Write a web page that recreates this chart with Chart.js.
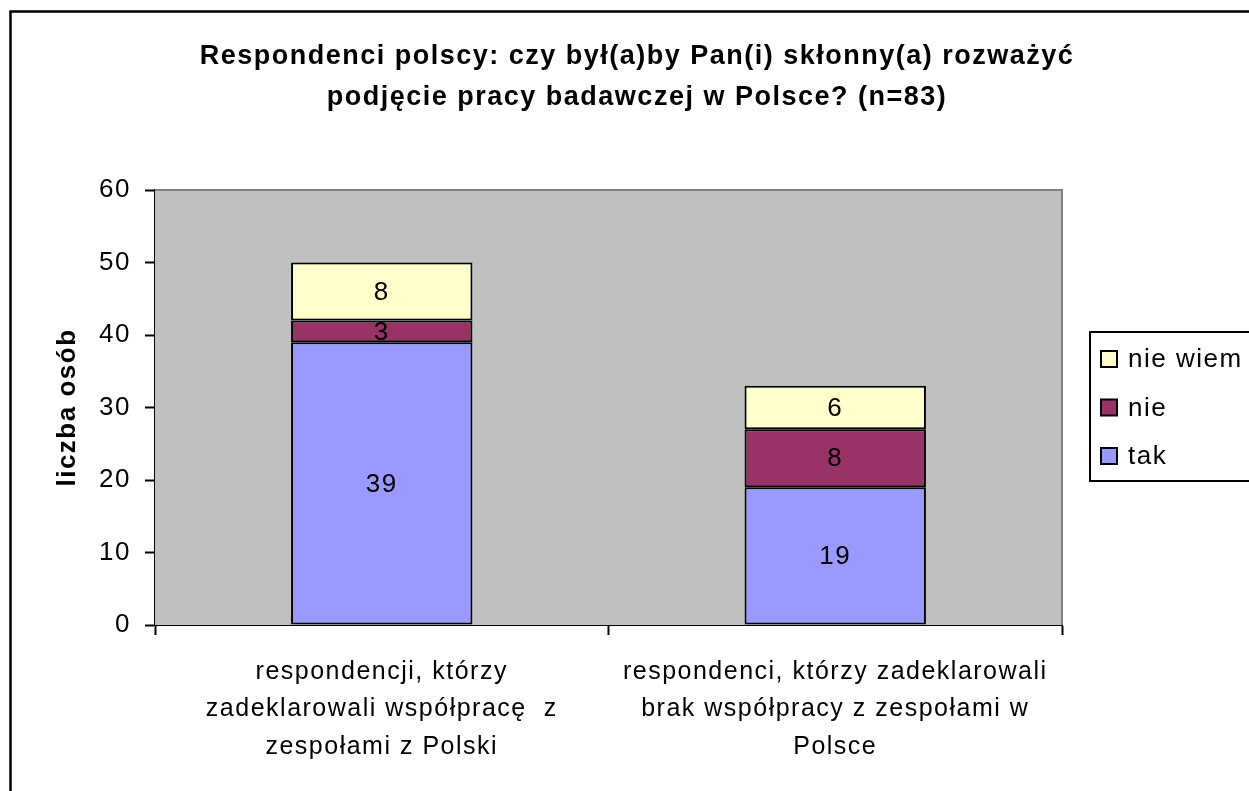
<!DOCTYPE html>
<html>
<head>
<meta charset="utf-8">
<script src="https://cdn.jsdelivr.net/npm/chart.js@4"></script>
<style>
  html, body { margin: 0; padding: 0; background: #fff; }
  #wrap { width: 1249px; height: 791px; }
</style>
</head>
<body>
<div id="wrap"><canvas id="chart" width="1249" height="791"></canvas></div>
<script>
// Chart data
const categories = [
  ["respondencji, którzy", "zadeklarowali współpracę  z", "zespołami z Polski"],
  ["respondenci, którzy zadeklarowali", "brak współpracy z zespołami w", "Polsce"]
];
const takValues = [39, 19];
const nieValues = [3, 8];
const nieWiemValues = [8, 6];
const titleLines = [
  "Respondenci polscy: czy był(a)by Pan(i) skłonny(a) rozważyć",
  "podjęcie pracy badawczej w Polsce? (n=83)"
];
const yTitle = "liczba osób";

const FONT = "'Liberation Sans', Arial, sans-serif";
const SPACING = "1.5px";

// Letter spacing like the old office renderer
const spacingPlugin = {
  id: "spacing",
  beforeLayout(chart) { chart.ctx.letterSpacing = SPACING; },
  beforeDraw(chart) { chart.ctx.letterSpacing = SPACING; }
};

// Grey plot area, its border and the outer frame
const plotAreaPlugin = {
  id: "plotArea",
  beforeDatasetsDraw(chart) {
    const { ctx, chartArea: a } = chart;
    ctx.save();
    ctx.fillStyle = "#C0C0C0";
    ctx.fillRect(a.left, a.top, a.right - a.left, a.bottom - a.top);
    ctx.strokeStyle = "#808080";
    ctx.lineWidth = 2;
    ctx.beginPath();
    ctx.moveTo(a.left, a.top);
    ctx.lineTo(a.right, a.top);
    ctx.lineTo(a.right, a.bottom);
    ctx.stroke();
    ctx.restore();
  },
  afterDraw(chart) {
    const ctx = chart.ctx;
    ctx.save();
    ctx.strokeStyle = "#000";
    ctx.lineWidth = 2.5;
    ctx.strokeRect(10.5, 11.5, 1260, 800);
    ctx.restore();
  }
};

// Value labels in the middle of each segment
const labelPlugin = {
  id: "segLabels",
  afterDatasetsDraw(chart) {
    const ctx = chart.ctx;
    ctx.save();
    ctx.letterSpacing = SPACING;
    ctx.font = "26px " + FONT;
    ctx.fillStyle = "#000";
    ctx.textAlign = "center";
    ctx.textBaseline = "middle";
    chart.data.datasets.forEach((ds, i) => {
      chart.getDatasetMeta(i).data.forEach((bar, j) => {
        const p = bar.getProps(["x", "y", "base"], true);
        ctx.fillText(String(ds.data[j]), p.x, (p.y + p.base) / 2 + 1);
      });
    });
    ctx.restore();
  }
};

// Legend box on the right, drawn from the datasets
const legendPlugin = {
  id: "boxLegend",
  afterDraw(chart) {
    const ctx = chart.ctx;
    const x0 = 1090, y0 = 332, h = 149;
    ctx.save();
    ctx.letterSpacing = SPACING;
    ctx.fillStyle = "#fff";
    ctx.fillRect(x0, y0, 200, h);
    ctx.strokeStyle = "#000";
    ctx.lineWidth = 2;
    ctx.strokeRect(x0, y0, 200, h);
    ctx.font = "26px " + FONT;
    ctx.textBaseline = "middle";
    const items = chart.data.datasets.slice().reverse();
    items.forEach((ds, k) => {
      const cy = 359 + k * 48.5;
      ctx.fillStyle = ds.backgroundColor;
      ctx.fillRect(1101, cy - 8, 16, 16);
      ctx.strokeRect(1101, cy - 8, 16, 16);
      ctx.fillStyle = "#000";
      ctx.fillText(ds.label, 1128, cy + 1);
    });
    ctx.restore();
  }
};

const dsCommon = {
  borderColor: "#000",
  borderWidth: 2,
  borderSkipped: false,
  barPercentage: 0.4,
  categoryPercentage: 1.0
};

new Chart(document.getElementById("chart"), {
  type: "bar",
  data: {
    labels: categories,
    datasets: [
      { label: "tak", data: takValues, backgroundColor: "#9999FF", ...dsCommon },
      { label: "nie", data: nieValues, backgroundColor: "#993366", ...dsCommon },
      { label: "nie wiem", data: nieWiemValues, backgroundColor: "#FFFFCC", ...dsCommon }
    ]
  },
  options: {
    responsive: false,
    animation: false,
    layout: { padding: { left: 25, right: 0, top: 0, bottom: 0 } },
    plugins: {
      legend: { display: false },
      tooltip: { enabled: false },
      title: {
        display: true,
        text: titleLines,
        color: "#000",
        font: { family: FONT, size: 27, weight: "bold", lineHeight: "41px" },
        padding: { top: 36.5, bottom: 71.5 }
      }
    },
    scales: {
      x: {
        stacked: true,
        grid: {
          display: true,
          offset: true,
          drawOnChartArea: false,
          drawTicks: true,
          tickLength: 10,
          tickWidth: 2,
          tickColor: "#000"
        },
        border: { display: true, color: "#000", width: 2 },
        ticks: {
          color: "#000",
          padding: 18,
          maxRotation: 0,
          autoSkip: false,
          font: { family: FONT, size: 25, lineHeight: "37.5px" }
        },
        afterFit(scale) { scale.height = 166; }
      },
      y: {
        stacked: true,
        min: 0,
        max: 60,
        ticks: {
          stepSize: 10,
          color: "#000",
          padding: 14,
          font: { family: FONT, size: 26 }
        },
        grid: {
          display: true,
          drawOnChartArea: false,
          drawTicks: true,
          tickLength: 10,
          tickWidth: 2,
          tickColor: "#000"
        },
        border: { display: true, color: "#000", width: 2 },
        title: {
          display: true,
          text: yTitle,
          color: "#000",
          font: { family: FONT, size: 26, weight: "bold" },
          padding: { top: 27, bottom: 0 }
        },
        afterFit(scale) { scale.width = 130; }
      },
      side: {
        position: "right",
        display: true,
        ticks: { display: false },
        grid: { display: false },
        border: { display: false },
        afterFit(scale) { scale.width = 187; }
      }
    }
  },
  plugins: [spacingPlugin, plotAreaPlugin, labelPlugin, legendPlugin]
});
</script>
</body>
</html>
